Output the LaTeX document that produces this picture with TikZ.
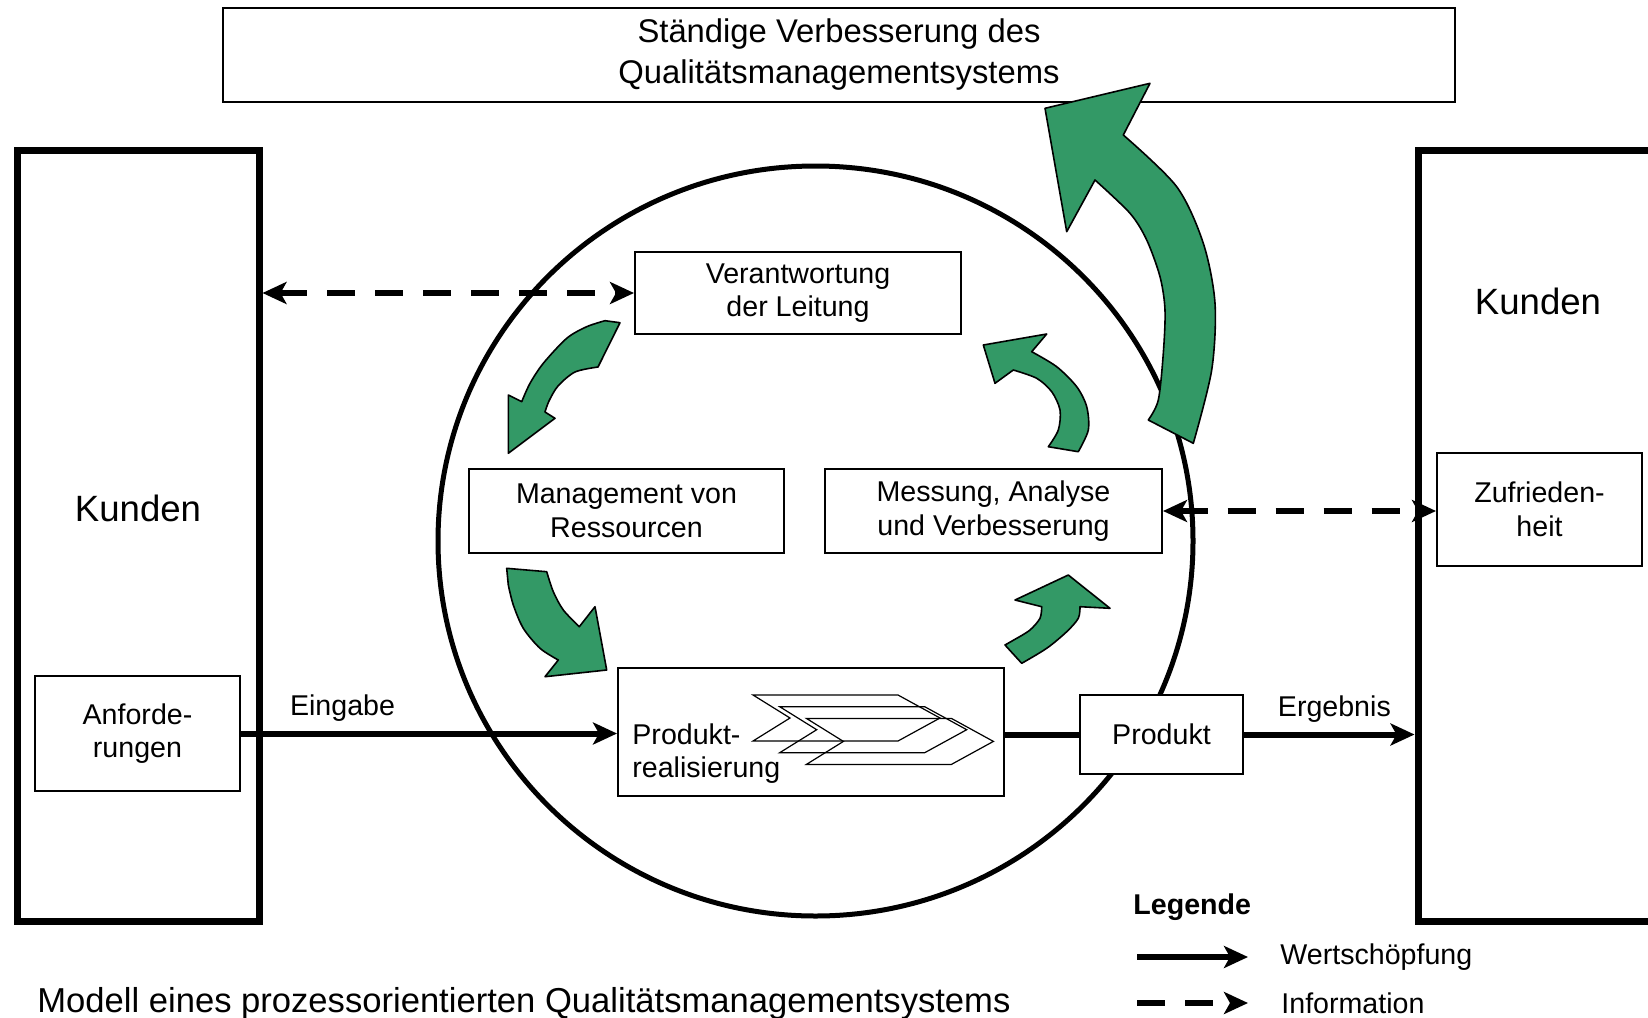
\documentclass[tikz,border=0pt]{standalone}
\usepackage{fontspec}
\setmainfont{Liberation Sans}
\usetikzlibrary{arrows.meta,positioning}
\definecolor{qmgreen}{RGB}{51,153,102}
\newcommand{\fsz}[2]{\fontsize{#1}{#2}\selectfont}

\begin{document}
\begin{tikzpicture}[x=0.5pt,y=-0.5pt,
  >={Stealth[length=12pt,width=11pt,inset=3pt]},
  box/.style={draw,fill=white,line width=1pt,align=center,inner sep=0pt,
    font=\fsz{14.3}{16.8}},
  kunden box/.style={draw,line width=3.5pt,minimum width=121pt,
    minimum height=385.5pt},
  big text/.style={font=\fsz{18.3}{22}},
  small text/.style={font=\fsz{14.3}{16.8},inner sep=0pt,anchor=west,align=left},
  wert/.style={->,line width=3pt},
  info/.style={line width=3pt,dash pattern=on 14pt off 10pt},
  green arrow/.style={fill=qmgreen,draw=black,line width=0.8pt,line join=round},
  chevron/.style={draw,line width=0.6pt}]

  \useasboundingbox (0,0) rectangle (1648,1017);

  \node[box,minimum width=616pt,minimum height=47pt,font=\fsz{16.4}{20.5}]
    (verbesserung) at (839,55) {Ständige Verbesserung des\\Qualitätsmanagementsystems};

  % Prozesskreis
  \draw[line width=2.5pt] (815.5,541) ellipse [x radius=377.5, y radius=375];

  \node[kunden box] (kundenL) at (138,535.5) {};
  \node[kunden box] (kundenR) at (1539,535.5) {};
  \node[big text] (kundenLtext) at (138,508) {Kunden};
  \node[big text] (kundenRtext) at (1538,301) {Kunden};

  \node[box,minimum width=102.5pt,minimum height=57.5pt] (anf) at (137.5,733.5) {Anforde-\\rungen};
  \node[box,minimum width=102.5pt,minimum height=56.5pt] (zuf) at (1539.5,509) {Zufrieden-\\heit};
  \node[box,minimum width=163pt,minimum height=41pt] (verant) at (798,293) {Verantwortung\\der Leitung};
  \node[box,minimum width=157.5pt,minimum height=42pt] (mgmt) at (626.5,511) {Management von\\Ressourcen};
  \node[box,minimum width=168.5pt,minimum height=42pt] (mess) at (993.5,511) {Messung, Analyse\\und Verbesserung};
  \node[box,minimum width=193pt,minimum height=64pt] (real) at (811,732) {};
  \node[small text] (realtext) at (632,753.5) {Produkt-\\realisierung};
  \node[box,minimum width=81.5pt,minimum height=39.5pt] (produkt) at (1161.5,734.5) {Produkt};

  % Pfeilsymbol in der Produktrealisierung
  \foreach \i in {0,1,2}
    \draw[chevron,shift={(26.7*\i,11.7*\i)}]
      (753,695) -- (898,695) -- (940,718) -- (898,741) -- (753,741) -- (790,718) -- cycle;

  % gruene Pfeile
  \filldraw[green arrow] (620,322.7) -- plot[smooth] coordinates {(598,367) (575,372) (558,386) (549,401) (545,412)}
    -- (555,418.3) -- (508.3,453.3) -- (508.3,395)
    -- plot[smooth] coordinates {(521.7,401.7) (530,383.3) (543.3,363.3) (566.7,338.3) (586.7,326.7) (605,320.7)} -- cycle;
  \filldraw[green arrow] (506.7,568.3) -- plot[smooth] coordinates {(546.7,571.7) (553.3,591.7) (563.3,610) (579.3,626.7)}
    -- (595,606.7) -- (606.7,670) -- (545,676.7)
    -- plot[smooth] coordinates {(558.3,660) (540,648.3) (523.3,628.3) (513.3,605) (508.3,585)} -- cycle;
  \filldraw[green arrow] (983.3,345) -- (1046.7,334)
    -- plot[smooth] coordinates {(1031.7,351.7) (1056.7,366.7) (1076.7,386.7) (1086.7,406.7) (1088.3,430) (1078.3,451.7)}
    -- plot[smooth] coordinates {(1048.3,446.7) (1058.3,430) (1060,410) (1051.7,391.7) (1036.7,378.3) (1013.3,370)}
    -- (995,383.3) -- cycle;
  \filldraw[green arrow] (1005,645)
    -- plot[smooth] coordinates {(1021.7,663.3) (1046.7,648.3) (1066.7,631.7) (1078.3,618.3) (1080,606.7)}
    -- (1110,608.3) -- (1068.3,575) -- (1015,600)
    -- plot[smooth] coordinates {(1041.7,606.7) (1040,618.3) (1030,630) (1016.7,638.3)} -- cycle;
  \filldraw[green arrow] (1045,108.3) -- (1150,83.3)
    -- plot[smooth] coordinates {(1123.3,135) (1176.7,186.7) (1203.3,243.3) (1215,303.3) (1211.7,370) (1193.3,443.3)}
    -- plot[smooth] coordinates {(1148.3,420) (1158.3,400) (1163.3,353.3) (1165,310) (1160,276.7) (1146.7,240) (1130,213.3) (1095,180)}
    -- (1066.7,231.7) -- cycle;

  % Wertschoepfung und Information
  \draw[wert] (anf.east) -- node[above=1pt,pos=0.27,font=\fsz{14.3}{16.8}] {Eingabe} (anf.east -| real.west);
  \draw[line width=3pt] (real.east |- produkt.west) -- (produkt.west);
  \draw[wert] (produkt.east) -- node[above=1pt,pos=0.53,font=\fsz{14.3}{16.8}] {Ergebnis} (produkt.east -| kundenR.west);
  \draw[info,<->] (kundenL.east |- verant.west) -- (verant.west);
  \draw[info,<->] (mess.east) -- (mess.east -| zuf.west);

  % Legende
  \node[small text,font=\bfseries\fsz{14.3}{16.8}] (legende) at (1133,907) {Legende};
  \coordinate (wertA) at (1137,957);
  \coordinate (wertB) at (1248,957);
  \coordinate (infoA) at (1137,1003);
  \coordinate (infoB) at (1248,1003);
  \draw[wert] (wertA) -- (wertB);
  \draw[info,->] (infoA) -- (infoB);
  \node[small text] (werttext) at (1280,957) {Wertschöpfung};
  \node[small text] (infotext) at (1281,1003) {Information};

  \node[small text,font=\fsz{17.3}{20}] (caption) at (37,1004)
    {Modell eines prozessorientierten Qualitätsmanagementsystems};
\end{tikzpicture}
\end{document}
